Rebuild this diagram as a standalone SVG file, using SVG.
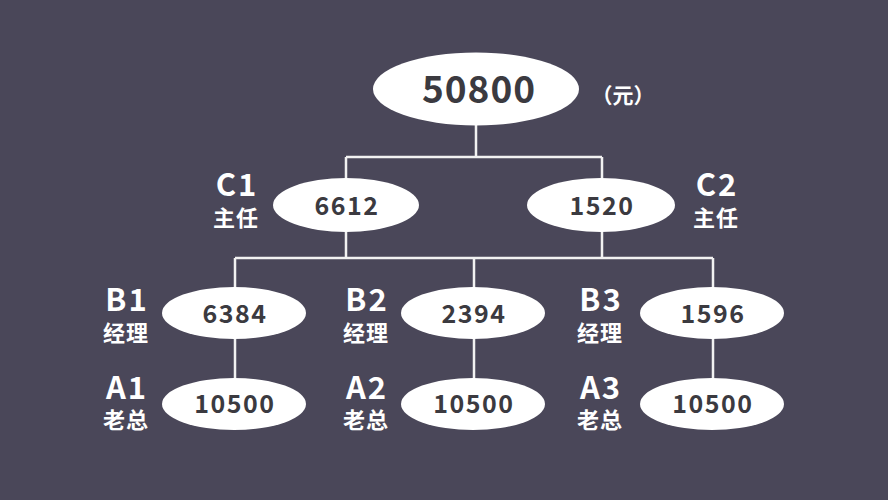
<svg xmlns="http://www.w3.org/2000/svg" width="888" height="500" viewBox="0 0 888 500">
<style>
.node ellipse{fill:#ffffff}
.num{font-family:"Noto Sans CJK SC","Noto Sans",sans-serif;font-weight:bold;fill:#3b3a40;text-anchor:middle}
.sm{font-size:25px;letter-spacing:1.5px}
.lab{font-family:"Noto Sans CJK SC","Noto Sans",sans-serif;font-weight:bold;fill:#ffffff;text-anchor:middle}
.code{font-size:31px;letter-spacing:2px}
.role{font-size:22px;letter-spacing:1px}
.conn{stroke:#f2f2f2;stroke-width:2.5;fill:none}
</style>
<rect width="888" height="500" fill="#4a4759"/>
<g id="connectors" class="conn">
<path d="M476 124V157M346 157H602M346 157V180M602 157V180"/>
<path d="M346 231V258M602 231V258M235 258H713M235 258V288M474 258V288M713 258V288"/>
<path d="M235 338V380M474 338V380M713 338V380"/>
</g>
<g id="root" class="node">
<ellipse cx="476" cy="89" rx="103" ry="36.5"/>
<text class="num" x="479" y="103" font-size="37" letter-spacing="1">50800</text>
<text class="lab" x="623" y="103" font-size="21">（元）</text>
</g>
<g id="C1" class="node">
<ellipse cx="346" cy="205" rx="73" ry="27"/>
<text class="num sm" x="347" y="215">6612</text>
<text class="lab code" x="237" y="196">C1</text>
<text class="lab role" x="236" y="226">主任</text>
</g>
<g id="C2" class="node">
<ellipse cx="601" cy="205" rx="74" ry="27"/>
<text class="num sm" x="602" y="215">1520</text>
<text class="lab code" x="717" y="196">C2</text>
<text class="lab role" x="716" y="226">主任</text>
</g>
<g id="B1" class="node">
<ellipse cx="234" cy="313" rx="72" ry="26"/>
<text class="num sm" x="235" y="323">6384</text>
<text class="lab code" x="127" y="311">B1</text>
<text class="lab role" x="126" y="341">经理</text>
</g>
<g id="B2" class="node">
<ellipse cx="473" cy="313" rx="72" ry="26"/>
<text class="num sm" x="474" y="323">2394</text>
<text class="lab code" x="367" y="311">B2</text>
<text class="lab role" x="366" y="341">经理</text>
</g>
<g id="B3" class="node">
<ellipse cx="712" cy="313" rx="72" ry="26"/>
<text class="num sm" x="713" y="323">1596</text>
<text class="lab code" x="601" y="311">B3</text>
<text class="lab role" x="600" y="341">经理</text>
</g>
<g id="A1" class="node">
<ellipse cx="234" cy="404" rx="72" ry="26"/>
<text class="num sm" x="235" y="413">10500</text>
<text class="lab code" x="127" y="399">A1</text>
<text class="lab role" x="126" y="428">老总</text>
</g>
<g id="A2" class="node">
<ellipse cx="473" cy="404" rx="72" ry="26"/>
<text class="num sm" x="474" y="413">10500</text>
<text class="lab code" x="367" y="399">A2</text>
<text class="lab role" x="366" y="428">老总</text>
</g>
<g id="A3" class="node">
<ellipse cx="712" cy="404" rx="72" ry="26"/>
<text class="num sm" x="713" y="413">10500</text>
<text class="lab code" x="601" y="399">A3</text>
<text class="lab role" x="600" y="428">老总</text>
</g>
</svg>
